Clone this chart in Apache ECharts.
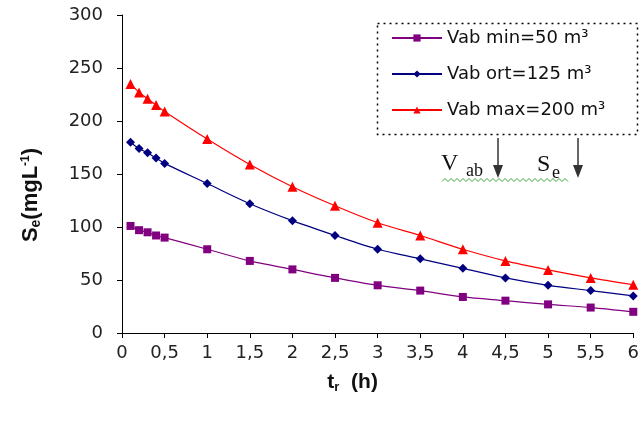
<!DOCTYPE html>
<html><head><meta charset="utf-8">
<script src="https://cdn.jsdelivr.net/npm/echarts@6/dist/echarts.min.js"></script>
<style>html,body{margin:0;padding:0;background:#fff}#c{width:642px;height:421px}</style>
</head><body><div id="c"></div>
<script>
const times = [0.1, 0.2, 0.3, 0.4, 0.5, 1, 1.5, 2, 2.5, 3, 3.5, 4, 4.5, 5, 5.5, 6];
const vabMin = [101, 97, 95, 92, 90, 79, 68, 60, 52, 45, 40, 34, 30.5, 27, 24, 20];
const vabOrt = [180, 174, 170, 165, 160, 141, 122, 106, 92, 79, 70, 61, 52, 45, 40, 35];
const vabMax = [235, 227, 221, 215, 209, 183, 159, 138, 120, 104, 92, 79, 68, 59.5, 52, 45.5];
const seriesNames = ['Vab min=50 m³', 'Vab ort=125 m³', 'Vab max=200 m³'];
const xTicks = ['0','0,5','1','1,5','2','2,5','3','3,5','4','4,5','5','5,5','6'];
const yTicks = ['0','50','100','150','200','250','300'];

const pair = arr => times.map((t, i) => [t, arr[i]]);
const font = '"DejaVu Sans", Verdana, sans-serif';
const tfont = '"Liberation Sans", Arial, sans-serif';
const serif = '"Liberation Serif", "Times New Roman", serif';
const chart = echarts.init(document.getElementById('c'), null, {renderer: 'canvas'});

function mk(name, data, color, symbol, size) {
  return {
    name, type: 'line', data: pair(data), smooth: 0.3,
    symbol, symbolSize: size, showSymbol: true,
    lineStyle: {color, width: 1.2},
    itemStyle: {color},
    emphasis: {disabled: true}
  };
}

// zigzag underline points (decorative)
const zig = [];
for (let i = 0; i <= 42; i++) zig.push([442 + i * 3, 180 + (i % 2 ? -1.5 : 1.5)]);

chart.setOption({
  animation: false,
  backgroundColor: '#fff',
  grid: {left: 122, right: 4, top: 15, bottom: 88, containLabel: false},
  xAxis: {
    type: 'value', min: 0, max: 6, interval: 0.5,
    axisLine: {lineStyle: {color: '#000', width: 1}},
    axisTick: {show: true, inside: false, length: 5, lineStyle: {color: '#000'}},
    splitLine: {show: false},
    axisLabel: {
      color: '#222', fontFamily: font, fontSize: 18, margin: 11,
      formatter: v => xTicks[Math.round(v * 2)]
    },
    name: '{b|t}{s|r}{b|  (h)}', nameLocation: 'middle', nameGap: 38,
    nameTextStyle: {
      padding: [0, 50, 0, 0],
      rich: {
        b: {fontFamily: tfont, fontSize: 21, fontWeight: 'bold', color: '#111'},
        s: {fontFamily: tfont, fontSize: 13, fontWeight: 'bold', color: '#111', padding: [10, 0, 0, 0]}
      }
    }
  },
  yAxis: {
    type: 'value', min: 0, max: 300, interval: 50,
    axisLine: {show: true, lineStyle: {color: '#000', width: 1}},
    axisTick: {show: true, inside: false, length: 5, lineStyle: {color: '#000'}},
    splitLine: {show: false},
    axisLabel: {
      color: '#222', fontFamily: font, fontSize: 18, margin: 19,
      formatter: v => yTicks[Math.round(v / 50)]
    },
    name: '{b|S}{s|e}{b|(mgL}{p|-1}{b|)}', nameLocation: 'middle', nameGap: 79, nameRotate: 90,
    nameTextStyle: {
      padding: [0, 42, 0, 0],
      rich: {
        b: {fontFamily: tfont, fontSize: 22, fontWeight: 'bold', color: '#111'},
        s: {fontFamily: tfont, fontSize: 14, fontWeight: 'bold', color: '#111', padding: [10, 0, 0, 0]},
        p: {fontFamily: tfont, fontSize: 12, fontWeight: 'bold', color: '#111', padding: [0, 0, 10, 0]}
      }
    }
  },
  legend: {
    data: seriesNames, orient: 'vertical', left: 391, top: 28,
    itemWidth: 50, itemHeight: 9, itemGap: 16, padding: 0,
    selectedMode: false,
    textStyle: {fontFamily: font, fontSize: 18, color: '#111', lineHeight: 20, padding: [0, 0, 0, 0]}
  },
  series: [
    mk(seriesNames[0], vabMin, '#800080', 'rect', 8),
    mk(seriesNames[1], vabOrt, '#000080', 'diamond', 9),
    mk(seriesNames[2], vabMax, '#ff0000', 'triangle', 10)
  ],
  graphic: [
    {type: 'rect', shape: {x: 377.5, y: 23.5, width: 260, height: 111},
     style: {fill: 'none', stroke: '#000', lineWidth: 1.5, lineDash: [2, 4]}, z: 10},
    {type: 'text', x: 441, y: 152, style: {text: 'V', font: '24px ' + serif, fill: '#111'}, z: 10},
    {type: 'text', x: 466, y: 162, style: {text: 'ab', font: '18px ' + serif, fill: '#111'}, z: 10},
    {type: 'text', x: 537, y: 153, style: {text: 'S', font: '24px ' + serif, fill: '#111'}, z: 10},
    {type: 'text', x: 552, y: 164, style: {text: 'e', font: '18px ' + serif, fill: '#111'}, z: 10},
    {type: 'polyline', shape: {points: zig}, style: {stroke: '#3aa33a', lineWidth: 1, fill: 'none'}, z: 10},
    {type: 'line', shape: {x1: 498, y1: 138, x2: 498, y2: 168}, style: {stroke: '#333', lineWidth: 1.5}, z: 10},
    {type: 'polygon', shape: {points: [[493, 165], [503, 165], [498, 178]]}, style: {fill: '#333'}, z: 10},
    {type: 'line', shape: {x1: 578, y1: 138, x2: 578, y2: 168}, style: {stroke: '#333', lineWidth: 1.5}, z: 10},
    {type: 'polygon', shape: {points: [[573, 165], [583, 165], [578, 178]]}, style: {fill: '#333'}, z: 10}
  ]
});
</script></body></html>
